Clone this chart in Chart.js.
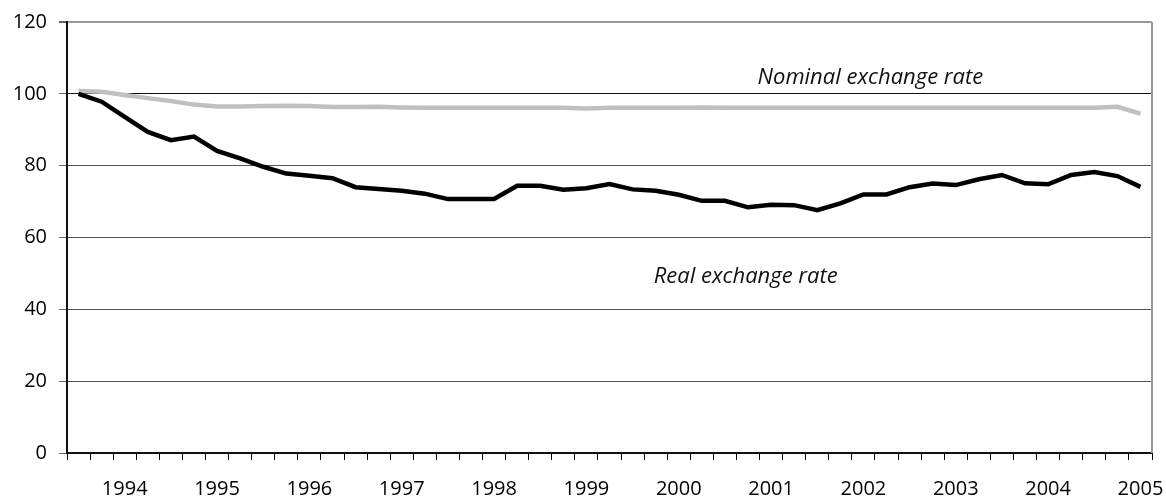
<!DOCTYPE html>
<html>
<head>
<meta charset="utf-8">
<script src="https://cdn.jsdelivr.net/npm/chart.js@4.4.0/dist/chart.umd.min.js"></script>
<style>
  html, body { margin: 0; padding: 0; background: #fff; }
  #wrap { width: 1166px; height: 501px; position: relative; }
</style>
</head>
<body>
<div id="wrap"><canvas id="myChart"></canvas></div>
<script>
// quarterly observations, 1993Q3 .. 2005Q1
var quarters = [
  '1993Q3', '1993Q4',
  '1994Q1', '1994Q2', '1994Q3', '1994Q4',
  '1995Q1', '1995Q2', '1995Q3', '1995Q4',
  '1996Q1', '1996Q2', '1996Q3', '1996Q4',
  '1997Q1', '1997Q2', '1997Q3', '1997Q4',
  '1998Q1', '1998Q2', '1998Q3', '1998Q4',
  '1999Q1', '1999Q2', '1999Q3', '1999Q4',
  '2000Q1', '2000Q2', '2000Q3', '2000Q4',
  '2001Q1', '2001Q2', '2001Q3', '2001Q4',
  '2002Q1', '2002Q2', '2002Q3', '2002Q4',
  '2003Q1', '2003Q2', '2003Q3', '2003Q4',
  '2004Q1', '2004Q2', '2004Q3', '2004Q4',
  '2005Q1'
];

var realRate = [
  100.0, 97.8, 93.6, 89.4, 87.1, 88.1, 84.1, 82.0, 79.7, 77.8, 77.2, 76.5,
  74.0, 73.5, 73.0, 72.2, 70.7, 70.7, 70.7, 74.4, 74.4, 73.3, 73.7, 74.9,
  73.4, 73.0, 71.9, 70.2, 70.2, 68.4, 69.1, 69.0, 67.6, 69.5, 72.0, 72.0,
  74.0, 75.0, 74.6, 76.2, 77.4, 75.1, 74.8, 77.4, 78.2, 77.1, 74.1
];

var nominalRate = [
  100.8, 100.6, 99.7, 98.8, 98.0, 97.0, 96.5, 96.5, 96.6, 96.7, 96.6, 96.3,
  96.3, 96.4, 96.2, 96.1, 96.1, 96.1, 96.1, 96.1, 96.1, 96.1, 95.9, 96.1,
  96.1, 96.1, 96.1, 96.2, 96.1, 96.1, 96.1, 96.1, 96.1, 96.1, 96.1, 96.1,
  96.1, 96.1, 96.1, 96.1, 96.1, 96.1, 96.1, 96.1, 96.1, 96.4, 94.5
];

var yTicks = [0, 20, 40, 60, 80, 100, 120];

// text labels placed on the plot: [text, category index, y value]
var notes = [
  ['Nominal exchange rate', 34.3, 102.7],
  ['Real exchange rate', 28.9, 47.3]
];

var fontName = "'Open Sans', 'DejaVu Sans', sans-serif";

var extras = {
  id: 'extras',
  afterDraw: function (chart) {
    var ctx = chart.ctx;
    var area = chart.chartArea;
    var xs = chart.scales.x;
    var ys = chart.scales.y;
    ctx.save();
    // right edge of plot area
    ctx.strokeStyle = '#999';
    ctx.lineWidth = 2;
    ctx.beginPath();
    ctx.moveTo(area.right, area.top);
    ctx.lineTo(area.right, area.bottom);
    ctx.stroke();
    // notes
    ctx.fillStyle = '#111';
    ctx.font = 'italic 22px ' + fontName;
    ctx.textAlign = 'center';
    ctx.textBaseline = 'alphabetic';
    notes.forEach(function (n) {
      ctx.fillText(n[0], xs.getPixelForValue(n[1]), ys.getPixelForValue(n[2]));
    });
    ctx.restore();
  }
};

var ctx = document.getElementById('myChart');
var chart = new Chart(ctx, {
  type: 'line',
  data: {
    labels: quarters,
    datasets: [{
      label: 'Real exchange rate',
      data: realRate,
      borderColor: '#000',
      borderWidth: 4.5,
      pointRadius: 0,
      tension: 0,
      fill: false
    }, {
      label: 'Nominal exchange rate',
      data: nominalRate,
      borderColor: '#c0c0c0',
      borderWidth: 4.5,
      pointRadius: 0,
      tension: 0,
      fill: false
    }]
  },
  options: {
    responsive: true,
    maintainAspectRatio: false,
    animation: false,
    layout: { padding: { left: 0, right: 14, top: 22, bottom: 0 } },
    plugins: {
      legend: { display: false },
      tooltip: { enabled: false }
    },
    scales: {
      x: {
        type: 'category',
        offset: true,
        afterFit: function (scale) {
          scale.height = 48;
          scale.paddingLeft = 0;
          scale.paddingRight = 0;
        },
        grid: {
          offset: true,
          drawOnChartArea: false,
          drawTicks: true,
          tickLength: 7,
          color: '#000',
          lineWidth: 1
        },
        border: { display: true, color: '#111', width: 2 },
        ticks: {
          autoSkip: false,
          maxRotation: 0,
          minRotation: 0,
          padding: 17,
          color: '#000',
          font: { family: fontName, size: 20 },
          callback: function (v, i) {
            var q = quarters[i];
            return q.slice(4) === 'Q1' ? q.slice(0, 4) : '';
          }
        }
      },
      y: {
        min: 0,
        max: 120,
        afterFit: function (scale) {
          scale.width = 67;
          scale.paddingTop = 0;
          scale.paddingBottom = 0;
        },
        afterBuildTicks: function (scale) {
          scale.ticks = yTicks.map(function (v) { return { value: v }; });
        },
        grid: {
          drawTicks: true,
          tickLength: 8,
          color: function (c) {
            if (c.tick && c.tick.value === 120) return '#999';
            if (c.tick && c.tick.value === 100) return '#111';
            return '#555';
          },
          lineWidth: function (c) {
            return (c.tick && c.tick.value === 120) ? 2 : 1;
          },
          tickColor: '#666'
        },
        border: { display: true, color: '#111', width: 2 },
        ticks: {
          padding: 12,
          color: '#000',
          font: { family: fontName, size: 20 }
        }
      }
    }
  },
  plugins: [extras]
});
</script>
</body>
</html>
